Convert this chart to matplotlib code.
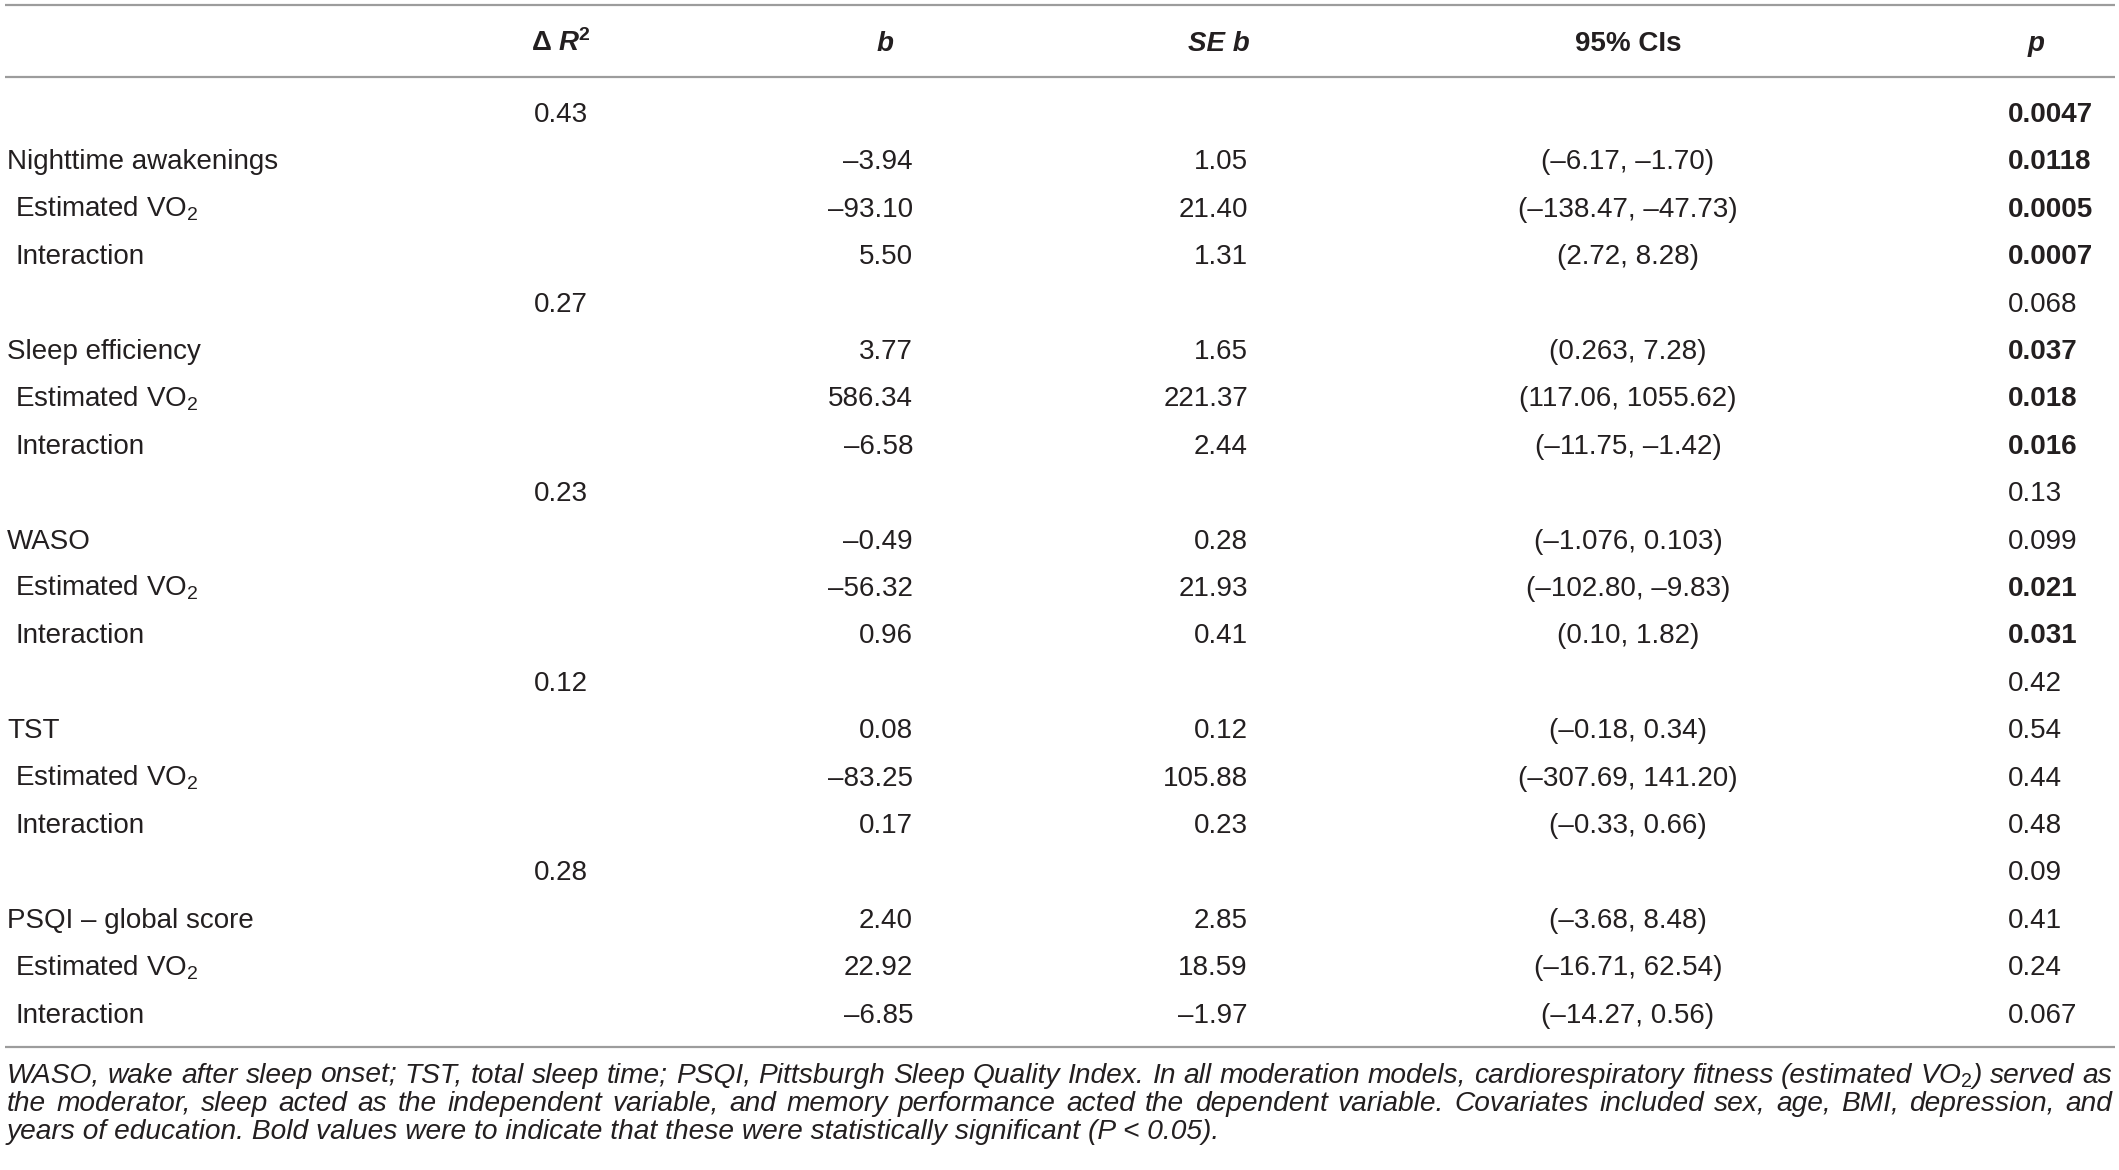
import matplotlib
matplotlib.use("Agg")
import matplotlib.pyplot as plt

# model level rows (Delta R^2 and overall p)
model_names = ["Nighttime awakenings", "Sleep efficiency", "WASO", "TST", "PSQI – global score"]
delta_r2 = ["0.43", "0.27", "0.23", "0.12", "0.28"]
model_p = ["0.0047", "0.068", "0.13", "0.42", "0.09"]
model_p_bold = [True, False, False, False, False]

# predictor rows: [sleep variable, estimated VO2, interaction] per model
sub_labels = ["Estimated VO$_2$", "Interaction"]
b_vals = [["–3.94", "–93.10", "5.50"],
          ["3.77", "586.34", "–6.58"],
          ["–0.49", "–56.32", "0.96"],
          ["0.08", "–83.25", "0.17"],
          ["2.40", "22.92", "–6.85"]]
se_vals = [["1.05", "21.40", "1.31"],
           ["1.65", "221.37", "2.44"],
           ["0.28", "21.93", "0.41"],
           ["0.12", "105.88", "0.23"],
           ["2.85", "18.59", "–1.97"]]
ci_vals = [["(–6.17, –1.70)", "(–138.47, –47.73)", "(2.72, 8.28)"],
           ["(0.263, 7.28)", "(117.06, 1055.62)", "(–11.75, –1.42)"],
           ["(–1.076, 0.103)", "(–102.80, –9.83)", "(0.10, 1.82)"],
           ["(–0.18, 0.34)", "(–307.69, 141.20)", "(–0.33, 0.66)"],
           ["(–3.68, 8.48)", "(–16.71, 62.54)", "(–14.27, 0.56)"]]
p_vals = [["0.0118", "0.0005", "0.0007"],
          ["0.037", "0.018", "0.016"],
          ["0.099", "0.021", "0.031"],
          ["0.54", "0.44", "0.48"],
          ["0.41", "0.24", "0.067"]]
p_bold = [[True, True, True],
          [True, True, True],
          [False, True, True],
          [False, False, False],
          [False, False, False]]

footnote = [
    "WASO, wake after sleep onset; TST, total sleep time; PSQI, Pittsburgh Sleep Quality Index. "
    "In all moderation models, cardiorespiratory fitness (estimated VO$_2$) served as",
    "the moderator, sleep acted as the independent variable, and memory performance acted the "
    "dependent variable. Covariates included sex, age, BMI, depression, and",
    "years of education. Bold values were to indicate that these were statistically significant (P < 0.05).",
]

plt.rcParams["font.family"] = ["Liberation Sans", "DejaVu Sans"]
plt.rcParams["mathtext.fontset"] = "custom"
plt.rcParams["mathtext.rm"] = "Liberation Sans"
plt.rcParams["mathtext.it"] = "Liberation Sans:italic"
plt.rcParams["mathtext.bf"] = "Liberation Sans:bold"
plt.rcParams["mathtext.bfit"] = "Liberation Sans:italic:bold"

W, H = 2119, 1170
fig = plt.figure(figsize=(W / 100, H / 100), dpi=100)
ax = fig.add_axes([0, 0, 1, 1])
ax.set_xlim(0, W)
ax.set_ylim(H, 0)
ax.axis("off")

ink = "#231f20"
rule = "#9c9c9c"
fs = 20

# column anchors (pixels)
x_lab, x_sub = 7, 15
x_r2 = 561
x_b = 913
x_se = 1248
x_ci = 1628
x_p = 2008

# rules
for yy in (5, 77, 1047):
    ax.plot([5, 2115], [yy, yy], color=rule, lw=1.6, solid_capstyle="butt")

# header
yh = 51
ax.text(x_r2, yh, r"$\mathbf{\Delta}\ \mathbfit{R}^{\mathbf{2}}$", ha="center", va="baseline",
        fontsize=fs, color=ink)
ax.text(885, yh, "b", ha="center", va="baseline", fontsize=fs, color=ink,
        weight="bold", style="italic")
ax.text(x_se + 2, yh, "SE b", ha="right", va="baseline", fontsize=fs, color=ink,
        weight="bold", style="italic")
ax.text(x_ci, yh, "95% CIs", ha="center", va="baseline", fontsize=fs, color=ink, weight="bold")
ax.text(x_p + 28, yh, "p", ha="center", va="baseline", fontsize=fs, color=ink,
        weight="bold", style="italic")

# body
y0, step = 122, 47.4
row = 0
for m in range(len(model_names)):
    y = y0 + row * step
    ax.text(x_r2, y, delta_r2[m], ha="center", va="baseline", fontsize=fs, color=ink)
    ax.text(x_p, y, model_p[m], ha="left", va="baseline", fontsize=fs, color=ink,
            weight="bold" if model_p_bold[m] else "normal")
    row += 1
    labels = [model_names[m]] + sub_labels
    for k in range(3):
        y = y0 + row * step
        ax.text(x_lab if k == 0 else x_sub, y, labels[k], ha="left", va="baseline",
                fontsize=fs, color=ink)
        ax.text(x_b, y, b_vals[m][k], ha="right", va="baseline", fontsize=fs, color=ink)
        ax.text(x_se, y, se_vals[m][k], ha="right", va="baseline", fontsize=fs, color=ink)
        ax.text(x_ci, y, ci_vals[m][k], ha="center", va="baseline", fontsize=fs, color=ink)
        ax.text(x_p, y, p_vals[m][k], ha="left", va="baseline", fontsize=fs, color=ink,
                weight="bold" if p_bold[m][k] else "normal")
        row += 1

# footnote: size chosen so the last (ragged) line has the reference width,
# first two lines justified across the table
renderer = fig.canvas.get_renderer()
probe = ax.text(0, 0, footnote[2], fontsize=14, style="italic")
fn_size = 14 * 1215 / probe.get_window_extent(renderer).width
probe.remove()

fn_x0, fn_x1 = 7, 2112
fn_y = [1083, 1111, 1139]
for i, line in enumerate(footnote):
    if i == len(footnote) - 1:
        ax.text(fn_x0, fn_y[i], line, ha="left", va="baseline", fontsize=fn_size,
                style="italic", color=ink)
        continue
    words = line.split(" ")
    texts = [ax.text(0, fn_y[i], w, ha="left", va="baseline", fontsize=fn_size,
                     style="italic", color=ink) for w in words]
    widths = [t.get_window_extent(renderer).width for t in texts]
    gap = (fn_x1 - fn_x0 - sum(widths)) / (len(words) - 1)
    x = fn_x0
    for t, w in zip(texts, widths):
        t.set_x(x)
        x += w + gap

fig.savefig("out.png", dpi=100)
